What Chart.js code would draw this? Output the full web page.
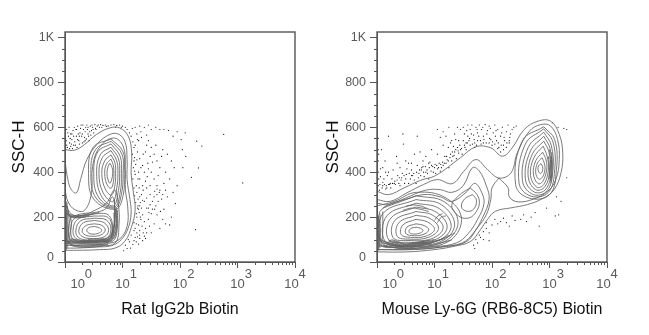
<!DOCTYPE html>
<html><head><meta charset="utf-8">
<script src="https://cdn.jsdelivr.net/npm/chart.js@4"></script>
<style>html,body{margin:0;padding:0;background:#fff;width:649px;height:335px;overflow:hidden}
canvas{position:absolute;top:0;left:0}</style></head><body>
<div style="position:absolute;left:0;top:0;width:320px;height:335px"><canvas id="a" width="320" height="335"></canvas></div>
<div style="position:absolute;left:320px;top:0;width:329px;height:335px"><canvas id="b" width="329" height="335"></canvas></div>
<script>
const xDecades=[1,10,100,1000,10000];
const xExponents=['0','1','2','3','4'];
const yTicks=[0,200,400,600,800,1000];
const yTickLabels=['0','200','400','600','800','1K'];
const yMinor=[50,100,150,250,300,350,450,500,550,650,700,750,850,900,950];
const xMinor=[2,3,4,5,6,7,8,9,20,30,40,50,60,70,80,90,200,300,400,500,600,700,800,900,2000,3000,4000,5000,6000,7000,8000,9000];
const titles=['Rat IgG2b Biotin','Mouse Ly-6G (RB6-8C5) Biotin'];
// contours: flat [log10 x, SSC, ...]
const leftContours=[
[0,500,.17,498,.34,523,.55,568,.78,597,.95,597,1.10,560,1.16,486,1.15,397,1.19,308,1.22,233,1.16,159,1.04,92,.87,62,.6,55,.2,52,0,52],
[0,449,.05,367,.11,322,.2,308,.27,367,.38,456,.55,522,.72,560,.9,572,1.04,538,1.08,456,1.08,367,1.13,278,1.15,218,1.1,152,.98,100,.81,73,.55,67,.2,62,0,62],
[0,322,.05,270,.17,233,.34,230,.46,308,.48,426,.6,510,.84,552,1.01,516,1.05,412,1.05,322,1.09,248,1.08,159,.94,100,.72,82,.31,76,0,73],
[.78,440,.82,420,.83,395,.81,365,.78,351,.75,365,.73,395,.75,425,.78,440],
[.8,458,.84,430,.85,395,.84,355,.8,328,.73,345,.69,395,.72,435,.8,458],
[.8,477,.87,440,.88,395,.87,345,.81,298,.7,325,.64,395,.69,450,.8,477],
[.8,496,.9,450,.92,395,.9,330,.83,269,.66,310,.59,395,.65,465,.8,496],
[.8,511,.93,460,.95,395,.93,320,.84,250,.63,295,.55,395,.62,480,.8,511],
[.8,526,.96,470,.98,395,.96,310,.86,245,.58,290,.5,395,.57,490,.8,526],
[.8,538,.99,480,1.01,395,.98,300,.87,240,.54,285,.45,395,.53,500,.8,538],
[.8,548,1.01,490,1.03,395,1.01,295,.88,235,.5,280,.41,395,.49,510,.8,548],
[.51,158,.6,152,.64,140,.58,128,.47,124,.4,131,.38,142,.42,154,.51,158],
[.51,170,.64,163,.7,142,.62,120,.44,115,.33,124,.3,142,.37,163,.51,170],
[.51,185,.68,175,.76,142,.68,112,.42,105,.28,117,.24,142,.32,175,.51,185],
[.51,195,.72,187,.8,145,.72,106,.4,98,.23,110,.19,142,.27,183,.51,195],
[.51,205,.75,198,.82,148,.76,102,.4,94,.19,105,.14,142,.22,190,.51,205],
[.5,215,.75,210,.83,150,.77,98,.4,91,.15,100,.1,142,.17,195,.5,215],
[.1,200,.3,215,.55,222,.72,240,.82,290,.86,260,.86,170,.78,95,.4,85,.12,95,.06,142,.1,200],
[0,260,.12,212,.3,208,.5,228,.72,262,.86,320,.92,270,.94,170,.86,82,.5,80,.1,82,0,85],
[0,235,.1,207,.25,203,.45,210,.6,222],[0,225,.1,203,.25,199,.42,205],[0,220,.1,200,.22,197,.36,201],[.06,212,.2,206,.36,208,.5,216],
[.05,93,.3,88,.6,92,.81,100,.89,150,.89,240],[.05,88,.3,84,.6,88,.84,95,.91,150,.91,230],
[.1,100,.3,92,.6,96,.78,105,.86,160,.87,230],[.08,96,.3,90,.6,94,.79,102,.88,155,.88,235],
[.05,91,.3,86,.6,90,.82,97,.9,150,.9,235],[.1,104,.3,96,.6,99,.77,108,.85,160,.85,220],[.86,280,.86,200,.84,150,.76,110,.6,103,.4,101],
[0,120,.07,85,.2,72,.45,70,.7,74],[0,105,.08,78,.2,68,.45,66,.65,70],[0,112,.08,82,.2,74,.45,73,.75,78],
[.01,52,.01,275],[.015,52,.015,270],[.02,55,.02,270],[.035,60,.04,150,.035,265],[.05,70,.06,120,.07,190,.04,250],[.07,80,.09,130,.11,180,.05,230],[.03,80,.03,220]
];
const leftDots=[
.03,590,.06,560,.08,530,.1,515,.12,545,.14,585,.16,600,.18,520,.2,560,.22,605,.24,540,.26,575,.28,610,.3,530,.32,590,.34,555,.36,600,.38,610,.4,570,.42,540,.44,605,.46,585,.48,600,.5,575,.52,612,.54,590,.56,605,.6,600,.62,612,.66,608,.7,610,.75,606,.85,612,.9,608,.95,610,1,605,1.05,600,1.08,590,
.02,540,.04,510,.05,575,.07,600,.09,550,.11,525,.13,505,.15,560,.17,535,.19,590,.21,510,.23,570,.25,525,.27,595,.29,560,.31,610,.33,535,.35,580,.37,548,.39,590,.41,560,.43,580,.45,565,.47,610,.49,590,.53,595,.58,610,.64,600,.72,604,.8,610,.88,600,.98,600,.03,520,.1,570,.2,590,.3,570,.4,600,.15,520,.25,560,.35,540,.22,545,.12,570,.08,505,
1.12,575,1.15,560,1.18,535,1.2,510,1.17,595,1.22,600,1.25,570,1.3,605,1.28,540,1.32,580,1.38,600,1.45,610,1.5,590,1.58,600,1.65,590,1.72,590,1.8,585,1.88,560,1.95,580,2.09,575,2.02,545,2.29,538,2.38,516,2.32,419,2.2,377,2.76,568,3.09,352,2.27,144,
1.17,480,1.2,450,1.19,420,1.22,390,1.18,370,1.24,340,1.25,310,1.27,280,1.27,250,1.29,220,1.25,200,1.24,170,1.2,140,1.15,120,1.1,100,1.05,75,1.02,50,1.08,60,1.2,95,1.25,130,1.28,165,1.32,190,1.35,210,
1.22,520,1.26,490,1.3,460,1.35,430,1.38,400,1.3,370,1.35,340,1.33,300,1.38,270,1.3,250,1.42,240,1.46,220,1.38,180,1.4,150,1.3,120,1.22,110,1.3,105,1.35,95,1.28,80,
1.45,540,1.5,510,1.55,480,1.6,450,1.65,420,1.5,400,1.55,370,1.6,340,1.42,330,1.48,300,1.55,290,1.62,270,1.7,300,1.58,250,1.5,215,1.6,210,1.72,235,1.78,290,1.45,190,1.55,170,1.7,190,1.82,165,1.65,150,1.75,170,1.85,200,
1.7,500,1.78,480,1.85,450,1.9,420,1.75,400,1.82,370,1.95,340,1.88,310,1.72,350,1.65,320,1.6,300,1.68,280,1.92,260,2.05,420,2.1,470,2.04,500,1.4,360,1.44,440,1.4,490,1.52,445,1.58,520,1.68,470,1.62,385,1.75,320,1.66,225,1.56,315,1.6,325,1.64,310,1.52,270,1.56,235,1.48,255,1.52,235,
1.2,175,1.22,150,1.24,215,1.26,240,1.23,265,1.21,295,1.2,330,1.21,405,1.23,435,1.21,465,1.25,455,1.28,400,1.29,330,1.3,290,1.31,265,1.28,235,1.31,200,1.34,160,1.36,130,1.26,112,1.24,90,1.18,78,1.14,62,1.12,90,1.3,140,1.33,240,1.35,275,1.36,320,1.27,370,1.32,420,1.36,480,1.42,520,1.26,545,1.33,555,1.42,565,1.48,470,1.45,415,1.43,380,1.42,285,1.48,340,1.47,160,1.42,130,1.5,130,1.38,115,1.4,105,1.45,240
];
const rightContours=[
[0,315,.2,300,.47,330,.76,364,1.02,385,1.45,464,1.72,513,1.98,508,2.18,471,2.35,508,2.56,590,2.8,627,3.02,627,3.17,568,3.23,486,3.2,397,3.08,322,2.9,285,2.62,256,2.33,241,2.06,226,1.92,189,1.8,144,1.63,92,1.34,70,.99,55,.52,45,0,45],
[0,278,.23,270,.52,308,.81,345,1.05,367,1.31,349,1.51,404,1.72,456,1.92,412,2.12,374,2.33,397,2.44,486,2.65,582,2.85,612,3.02,605,3.14,545,3.17,456,3.11,367,2.97,315,2.72,280,2.45,268,2.3,290,2.28,330,2.12,374],
[2.12,374,2,330,1.98,280,1.9,210,1.74,150,1.55,90,1.2,70,.75,58,0,55],
[0,262,.2,255,.5,285,.85,320,1.1,322,1.3,310,1.5,340,1.66,420,1.78,405,1.9,340,1.95,280,1.84,200,1.68,130,1.48,85,1.1,66,.6,55,0,55],
[.1,240,.4,268,.8,300,1.1,290,1.3,270,1.55,310,1.7,350,1.82,310,1.86,260,1.75,190,1.58,125,1.38,85,1,68,.5,60,.1,70],
[1.62,330,1.74,300,1.78,260,1.7,215,1.58,195,1.42,205,1.3,250,1.42,295,1.62,330],
[1.66,300,1.73,275,1.68,235,1.56,226,1.47,245,1.52,280,1.66,300],
[.68,155,.76,150,.8,140,.74,128,.62,125,.56,132,.58,148,.68,155],
[.68,170,.82,162,.9,143,.8,122,.6,118,.5,128,.52,155,.68,170],
[.68,190,.88,178,1,145,.85,115,.58,110,.42,122,.45,165,.68,190],
[.68,208,.92,194,1.07,150,.9,110,.56,102,.35,115,.38,175,.68,208],
[.68,225,.97,208,1.15,152,.95,104,.54,96,.28,108,.31,185,.68,225],
[.68,245,1.03,222,1.22,155,1,98,.52,88,.2,100,.24,195,.68,245],
[.68,262,1.08,238,1.29,158,1.05,94,.5,82,.14,92,.17,205,.68,262],
[.68,278,1.12,255,1.35,165,1.1,90,.5,76,.08,86,.1,215,.68,278],
[.68,295,1.17,268,1.41,175,1.15,88,.5,70,.04,80,.05,225,.68,295],
[0,250,.3,270,.68,310,1.2,285,1.47,190,1.22,88,.5,66,0,72],
[0,120,.15,88,.35,70,.5,62,.75,72,1,90,1.2,108,1.35,130],
[.1,85,.3,72,.5,68,.7,76,.9,88,1.1,100,1.25,120],[.1,75,.3,64,.5,58,.8,66,1.05,82,1.3,98],
[.25,100,.4,88,.5,78,.6,85,.8,92,1,100],[.2,92,.35,82,.48,72,.62,80,.85,88],[.15,90,.3,80,.47,68,.66,78,.9,90],[.2,98,.38,86,.5,75,.62,82,.9,96],[.05,100,.2,84,.4,74,.6,72,.9,84,1.15,104],[.05,95,.2,78,.4,70,.6,68,.95,82],
[.02,50,.02,195],[.03,55,.035,120,.03,205],[.05,62,.06,130,.05,215],[.08,70,.1,140,.1,225],[.01,60,.01,185],[.015,55,.015,190],[.04,70,.045,150,.04,190],
[.45,230,.6,240,.75,235,.9,225],[.5,248,.62,254,.75,250,.88,238],[1.05,175,1.12,200,1.2,205],[1,185,1.06,205,1.14,215],
[2.85,438,2.88,425,2.88,408,2.85,394,2.82,398,2.8,412,2.81,428,2.85,438],
[2.87,464,2.91,440,2.92,410,2.87,375,2.81,370,2.76,398,2.79,440,2.87,464],
[2.88,489,2.94,455,2.95,410,2.88,358,2.8,349,2.72,392,2.76,450,2.88,489],
[2.89,516,2.96,470,2.98,410,2.9,345,2.78,333,2.67,385,2.73,465,2.89,516],
[2.9,538,2.99,490,3.01,410,2.92,335,2.76,322,2.63,378,2.7,480,2.9,538],
[2.9,560,3.01,505,3.03,410,2.94,325,2.74,311,2.58,370,2.67,495,2.9,560],
[2.9,578,3.03,520,3.06,410,2.96,318,2.72,300,2.53,362,2.63,510,2.9,578],
[2.9,593,3.06,535,3.09,410,2.98,310,2.68,293,2.47,352,2.58,525,2.9,593],
[2.9,602,3.09,545,3.12,410,3,300,2.64,285,2.41,345,2.53,540,2.9,602],
[3,500,3.02,440,3.01,400,3.02,360],[3.04,490,3.05,430,3.04,390,3.02,350],[3.03,470,3.04,420,3.03,370],[2.98,470,3,420,2.99,370]
];
const rightDots=[
.02,340,.02,400,.02,450,.02,500,.02,550,.03,370,.03,480,.04,320,.05,345,.06,415,.08,500,.09,330,.1,355,.12,370,.14,450,.15,325,.16,340,.18,385,.2,560,.22,345,.24,330,.26,370,.28,410,.3,350,.32,345,.34,470,.36,385,.38,350,.4,340,.42,365,.44,395,.46,525,.48,350,.5,370,.52,415,.55,350,.58,370,.6,440,.62,385,.65,365,.68,350,.7,560,.72,375,.74,410,.76,385,.78,420,.8,450,.82,380,.85,400,.88,395,.9,370,.92,445,.95,430,.98,400,1,420,1.02,395,1.05,415,1.08,440,1.1,405,1.12,420,1.15,430,1.18,470,1.2,440,1.22,455,1.25,420,1.28,480,1.3,450,1.32,470,1.35,490,1.38,460,1.4,510,1.42,485,1.45,500,1.48,480,1.5,540,1.52,520,1.55,500,1.58,560,
.35,440,.45,570,.55,440,.65,480,.75,490,.85,470,.95,500,1.05,480,1.15,520,1.05,590,1.1,555,1.15,580,1.2,560,1.25,600,1.3,540,1.35,570,1.4,600,1.42,540,1.45,590,1.5,600,1.52,570,1.55,530,1.58,610,1.6,540,1.62,590,1.65,610,1.68,565,1.7,530,1.72,600,1.75,575,1.78,610,1.8,540,1.82,590,1.85,560,1.88,612,1.9,530,1.92,585,1.95,605,1.98,545,2,520,2.02,575,2.05,610,2.08,540,2.1,590,2.12,510,2.15,560,2.18,600,2.2,500,2.22,540,2.25,580,2.28,610,2.3,530,2.32,570,2.35,590,2.38,600,2.42,605,1.62,520,1.7,510,1.75,540,1.85,530,1.95,530,2.05,525,2.1,505,2.15,490,2.2,520,2.25,510,2.3,540,
1.9,175,1.95,130,2,165,2.05,190,2.1,170,2.15,180,2.2,195,2.25,175,2.3,160,2.35,205,2.4,185,2.5,190,2.55,210,2.6,180,2.68,200,2.75,220,2.82,160,2.95,240,3.1,205,3.12,290,3.16,210,3.2,270,3.15,600,3.05,620,3.25,595,3.3,375,3.3,590,1.8,110,1.85,135,1.75,85,1.7,60,1.72,100,1.68,75,1.85,100,1.9,150,1.78,120,1.95,95,
.1,340,.13,345,.17,330,.2,345,.23,350,.27,350,.31,360,.35,365,.39,375,.43,375,.47,385,.51,390,.56,395,.6,385,.64,395,.69,400,.73,395,.77,410,.81,400,.84,425,.87,410,.91,420,.94,405,.97,425,1.01,435,1.04,430,1.07,420,1.11,435,1.14,445,1.17,440,1.21,470,1.24,450,1.27,465,1.31,490,1.34,475,1.37,500,1.41,495,1.44,520,1.47,505,1.53,510,1.57,530,1.61,550,1.66,525,1.69,545,1.73,520,1.77,560,1.81,525,1.86,545,1.91,570,1.96,550,2.01,535,2.06,560,2.11,530,2.16,520,2.21,555,2.26,530,2.31,555,1.24,510,1.28,530,1.33,515,1.37,545,1.56,585,1.64,570,1.74,590,1.84,600,1.97,595,2.07,585,2.17,575,.4,420,.5,450,.6,410,.7,430,.8,425,.9,440,.2,400,.1,420,.06,380,.15,400
];
const num=a=>a.reduce((o,v,i)=>{if(i%2)o[o.length-1].y=v;else o.push({x:Math.pow(10,v),y:0});return o;},[]);
const INK='#555',TXT='#5a5a5a';
const frame={id:'frame',afterDraw(c){
  const g=c.ctx,a=c.chartArea,sx=c.scales.x,sy=c.scales.y;
  g.save();g.strokeStyle=INK;g.lineWidth=1.4;
  g.strokeRect(a.left,a.top,a.right-a.left,a.bottom-a.top);
  g.lineWidth=1;g.beginPath();
  yMinor.forEach(v=>{const p=Math.round(sy.getPixelForValue(v))+.5;g.moveTo(a.left-3,p);g.lineTo(a.left,p);});
  xMinor.forEach(v=>{const p=Math.round(sx.getPixelForValue(v))+.5;g.moveTo(p,a.bottom);g.lineTo(p,a.bottom+3);});
  g.stroke();g.restore();}};
function make(id,contours,dots,title,padR){
  const ds=contours.map(k=>({data:num(k),showLine:true,pointRadius:0,borderColor:'#626262',borderWidth:.85,tension:.4,fill:false}));
  ds.push({data:num(dots),showLine:false,pointRadius:.6,pointBorderWidth:0,pointBackgroundColor:'#111'});
  new Chart(document.getElementById(id),{type:'scatter',data:{datasets:ds},plugins:[frame],options:{
    responsive:false,animation:false,events:[],
    layout:{padding:{left:0,right:padR,top:32,bottom:0}},
    plugins:{legend:{display:false},tooltip:{enabled:false},title:{display:false}},
    scales:{
      x:{type:'logarithmic',min:1,max:10000,afterBuildTicks:s=>{s.ticks=xDecades.map(v=>({value:v,major:true}));},
        afterFit:s=>{s.height=73;},
        grid:{drawOnChartArea:false,tickLength:6,tickColor:INK,tickWidth:1},border:{color:INK,width:1},
        ticks:{autoSkip:false,maxRotation:0,minRotation:0,padding:2,color:TXT,font:{family:'"Liberation Sans"',size:13,lineHeight:.72},
          callback:v=>{const i=xDecades.indexOf(v),e=xExponents[i];
            if(i===0)return ['       '+'      '+e,'       10'];
            if(i===4)return ['      '+e+'  ','10  '];
            return ['      '+e,'10'];}},
        title:{display:true,text:title,color:'#111',font:{family:'"Liberation Sans"',size:16},padding:{top:0,bottom:16}}},
      y:{type:'linear',min:0,max:1024,afterBuildTicks:s=>{s.ticks=yTicks.map(v=>({value:v}));},
        afterFit:s=>{s.width=id==='a'?65:57;},
        grid:{drawOnChartArea:false,tickLength:7,tickColor:INK,tickWidth:1},border:{color:INK,width:1},
        ticks:{autoSkip:false,padding:4,color:TXT,font:{family:'"Liberation Sans"',size:12.5,lineHeight:.7},
          callback:v=>{const l=yTickLabels[yTicks.indexOf(v)];return v===0?[l,'']:l;}},
        title:{display:true,text:'SSC-H',color:'#111',font:{family:'"Liberation Sans"',size:17},padding:{top:id==='a'?9:3,bottom:0}}}
    }}});
}
make('a',leftContours,leftDots,titles[0],25);
make('b',rightContours,rightDots,titles[1],42);
</script></body></html>
